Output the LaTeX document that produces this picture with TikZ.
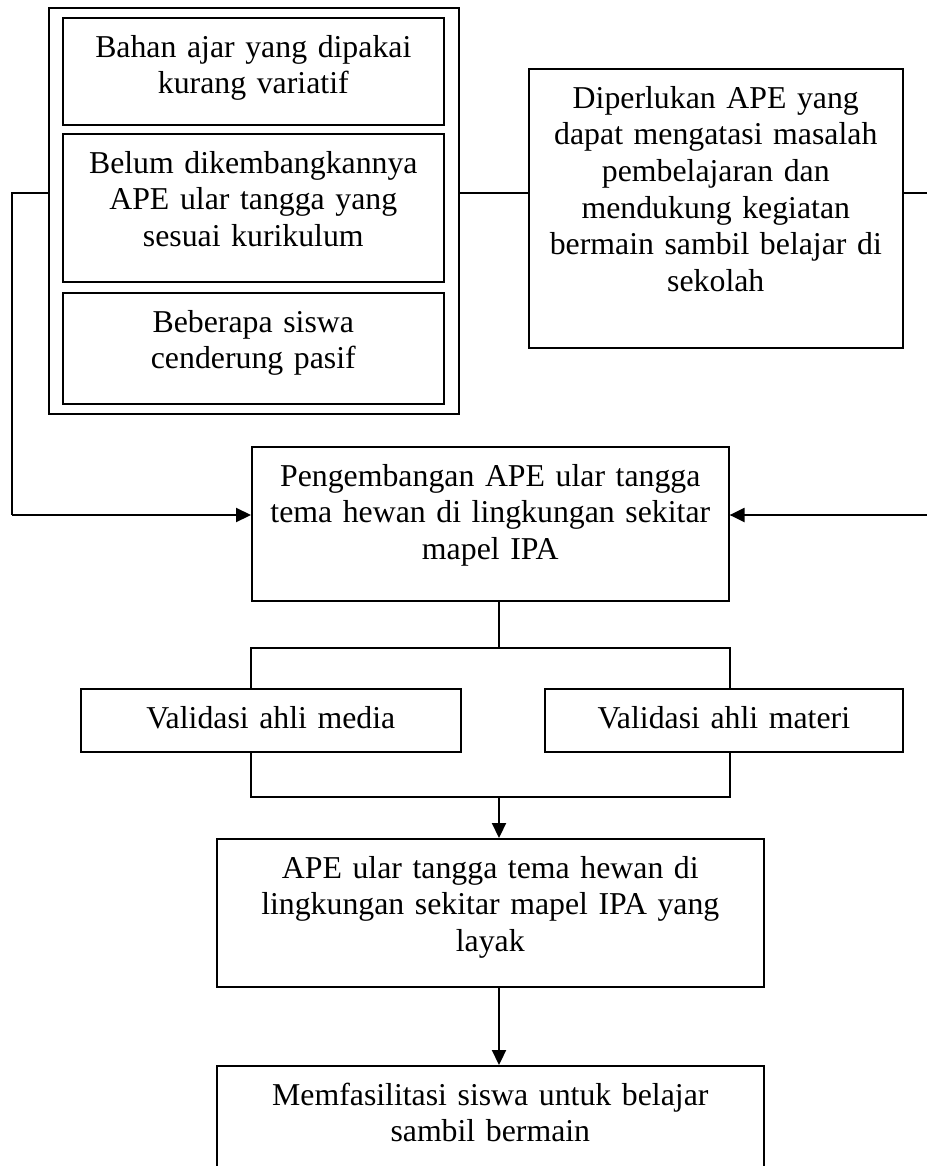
\documentclass[tikz,border=0pt]{standalone}
\usepackage{fontspec}
\setmainfont{Liberation Serif}
\usetikzlibrary{arrows.meta}
\begin{document}
\begin{tikzpicture}[x=1pt,y=-1pt,
  box/.style={draw,line width=1.6pt,rectangle,inner sep=0pt,anchor=north west},
  txt/.style={align=center,inner sep=0pt,anchor=north,font=\fontsize{31.8}{36.6}\selectfont},
  conn/.style={line width=1.6pt},
  arr/.style={line width=2.2pt,-{Triangle[length=15pt,width=14pt]}}]
\useasboundingbox (0,0) rectangle (926,1166);
% boxes
\node[box,minimum width=410pt,minimum height=406pt] (grp) at (48,7) {};
\node[box,minimum width=381pt,minimum height=107pt] (b1) at (62,17) {};
\node[box,minimum width=381pt,minimum height=148pt] (b2) at (62,133) {};
\node[box,minimum width=381pt,minimum height=111pt] (b3) at (62,292) {};
\node[box,minimum width=374pt,minimum height=279pt] (rb) at (528,68) {};
\node[box,minimum width=477pt,minimum height=154pt] (pb) at (251,446) {};
\node[box,minimum width=380pt,minimum height=63pt] (vm) at (80,688) {};
\node[box,minimum width=358pt,minimum height=63pt] (vt) at (544,688) {};
\node[box,minimum width=547pt,minimum height=148pt] (ab) at (216,838) {};
\node[box,minimum width=547pt,minimum height=140pt] (mb) at (216,1065) {};
% texts
\node[txt,text width=381pt] (t1) at ([yshift=-14.4pt]b1.north) {\strut Bahan ajar yang dipakai\\kurang variatif};
\node[txt,text width=381pt] (t2) at ([yshift=-14.4pt]b2.north) {\strut Belum dikembangkannya\\APE ular tangga yang\\sesuai kurikulum};
\node[txt,text width=381pt] (t3) at ([yshift=-14.4pt]b3.north) {\strut Beberapa siswa\\cenderung pasif};
\node[txt,text width=374pt] (t4) at ([yshift=-14.4pt]rb.north) {\strut Diperlukan APE yang\\dapat mengatasi masalah\\pembelajaran dan\\mendukung kegiatan\\bermain sambil belajar di\\sekolah};
\node[txt,text width=477pt] (t5) at ([yshift=-14.4pt]pb.north) {\strut Pengembangan APE ular tangga\\tema hewan di lingkungan sekitar\\mapel IPA};
\node[txt,text width=380pt] (t6) at ([yshift=-14.4pt]vm.north) {\strut Validasi ahli media};
\node[txt,text width=358pt] (t7) at ([yshift=-14.4pt]vt.north) {\strut Validasi ahli materi};
\node[txt,text width=547pt] (t8) at ([yshift=-14.4pt]ab.north) {\strut APE ular tangga tema hewan di\\lingkungan sekitar mapel IPA yang\\layak};
\node[txt,text width=547pt] (t9) at ([yshift=-14.4pt]mb.north) {\strut Memfasilitasi siswa untuk belajar\\sambil bermain};
% coordinates
\coordinate (L1) at (12,193);
\coordinate (L2) at (12,515);
\coordinate (R1) at (929,193);
\coordinate (R2) at (929,515);
\coordinate (S) at (499,648);
\coordinate (BL) at (251,648);
\coordinate (BR) at (730,648);
\coordinate (C) at (499,797);
\coordinate (CL) at (251,797);
\coordinate (CR) at (730,797);
% connectors
\draw[conn] (grp.west |- L1) -- (L1) -- (L2);
\draw[arr] (L2) -- (pb.west |- L2);
\draw[conn] (grp.east |- L1) -- (rb.west |- L1);
\draw[conn] (rb.east |- L1) -- (R1) -- (R2);
\draw[arr] (R2) -- (pb.east |- R2);
\draw[conn] (pb.south -| S) -- (S);
\draw[conn] (vm.north -| BL) -- (BL) -- (BR) -- (vt.north -| BR);
\draw[conn] (vm.south -| CL) -- (CL) -- (CR) -- (vt.south -| CR);
\draw[arr] (C) -- (ab.north -| C);
\draw[arr] (ab.south -| C) -- (mb.north -| C);
\end{tikzpicture}
\end{document}
